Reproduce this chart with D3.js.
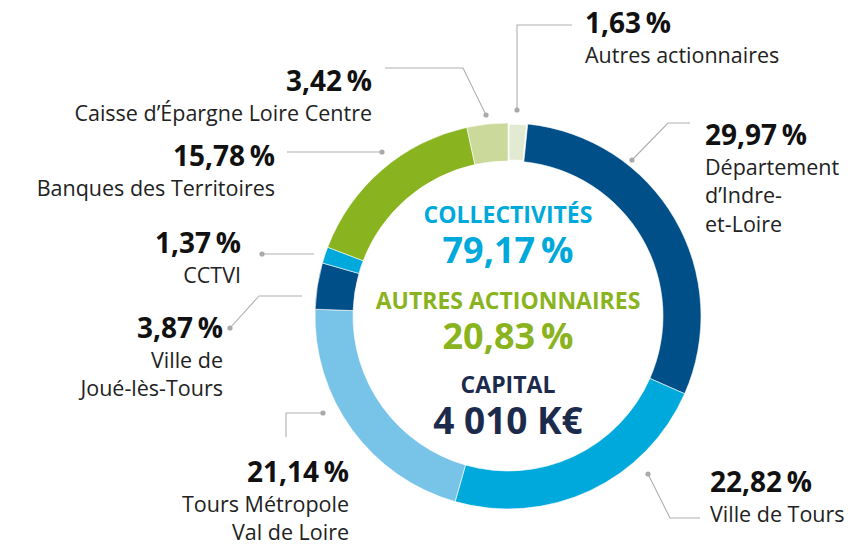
<!DOCTYPE html>
<html>
<head>
<meta charset="utf-8">
<script src="https://cdn.jsdelivr.net/npm/d3@7"></script>
<style>
  body { margin: 0; background: #fff; }
  text { font-family: "Open Sans", Lato, sans-serif; }
</style>
</head>
<body>
<div id="chart"></div>
<script>
// shareholders, clockwise from 12 o'clock
var names = ["Autres actionnaires", "Département d’Indre-et-Loire", "Ville de Tours",
  "Tours Métropole Val de Loire", "Ville de Joué-lès-Tours", "CCTVI",
  "Banques des Territoires", "Caisse d’Épargne Loire Centre"];
var values = [1.63, 29.97, 22.82, 21.14, 3.87, 1.37, 15.78, 3.42];
var groups = ["autres", "coll", "coll", "coll", "coll", "coll", "autres", "autres"];
var labelLines = [["Autres actionnaires"], ["Département", "d’Indre-", "et-Loire"], ["Ville de Tours"],
  ["Tours Métropole", "Val de Loire"], ["Ville de", "Joué-lès-Tours"], ["CCTVI"],
  ["Banques des Territoires"], ["Caisse d’Épargne Loire Centre"]];
var colors = ["#e3ead2", "#004f88", "#00a9db", "#78c3e8", "#004f88", "#00a9db", "#8ab320", "#cbd99a"];
var capital = 4010;

var width = 858, height = 547;
var cx = 508, cy = 316, rOuter = 193, rInner = 155;

var fr = d3.formatLocale({decimal: ",", thousands: "\u00a0", grouping: [3], currency: ["", "€"]});
var pct = function(v) { return fr.format(".2f")(v) + "\u2009%"; };

var svg = d3.select("#chart").append("svg")
    .attr("width", width)
    .attr("height", height);

var data = names.map(function(n, i) { return {name: n, value: values[i], group: groups[i], lines: labelLines[i], color: colors[i]}; });

var pie = d3.pie().sort(null).value(function(d) { return d.value; });
var arc = d3.arc().innerRadius(rInner).outerRadius(rOuter);

var g = svg.append("g").attr("transform", "translate(" + cx + "," + cy + ")");

g.selectAll("path")
    .data(pie(data))
    .enter().append("path")
    .attr("d", arc)
    .attr("fill", function(d) { return d.data.color; })
    .attr("stroke", "#fff")
    .attr("stroke-width", function(d) { return d.data.name == "Autres actionnaires" ? 3 : 0.6; });

// label layout: text anchor point + leader polyline (dot on first point)
var layout = [
  {x: 585, y: 33, anchor: "start", line: [[517, 110], [517, 25], [572, 25]]},
  {x: 705, y: 145, anchor: "start", line: [[632, 160], [668, 123], [690, 123]]},
  {x: 710, y: 492, anchor: "start", line: [[648, 474], [670, 518], [700, 518]]},
  {x: 349, y: 482, anchor: "end", line: [[323, 413], [286, 413], [286, 437]]},
  {x: 223, y: 338, anchor: "end", line: [[230, 328], [259, 296], [302, 296]]},
  {x: 241, y: 253, anchor: "end", line: [[262, 254], [314, 254]]},
  {x: 275, y: 166, anchor: "end", line: [[382, 152], [287, 152]]},
  {x: 372, y: 91, anchor: "end", line: [[486, 115], [463, 68], [385, 68]]}
];

var labels = svg.append("g");
data.forEach(function(d, i) {
  var L = layout[i];
  labels.append("path")
      .attr("d", d3.line()(L.line))
      .attr("fill", "none")
      .attr("stroke", "#b0b0b0")
      .attr("stroke-width", 1.1);
  labels.append("circle")
      .attr("cx", L.line[0][0])
      .attr("cy", L.line[0][1])
      .attr("r", 2.6)
      .attr("fill", "#aaaaaa");
  var t = labels.append("text")
      .attr("x", L.x)
      .attr("y", L.y)
      .attr("text-anchor", L.anchor);
  t.append("tspan")
      .attr("x", L.x)
      .attr("font-size", "28px")
      .attr("font-weight", "bold")
      .attr("fill", "#111")
      .text(pct(d.value));
  d.lines.forEach(function(line, j) {
    t.append("tspan")
        .attr("x", L.x)
        .attr("dy", j == 0 ? 29.5 : 28.5)
        .attr("font-size", "21.5px")
        .attr("fill", "#222")
        .text(line);
  });
});

// centre block
var coll = d3.sum(data.filter(function(d) { return d.group == "coll"; }), function(d) { return d.value; });
var autres = d3.sum(data.filter(function(d) { return d.group == "autres"; }), function(d) { return d.value; });

var centre = [
  {text: "COLLECTIVITÉS", y: 223, size: 23, color: "#00a9db"},
  {text: pct(coll), y: 263, size: 36, color: "#00a9db"},
  {text: "AUTRES ACTIONNAIRES", y: 309, size: 23, color: "#8ab320"},
  {text: pct(autres), y: 349, size: 36, color: "#8ab320"},
  {text: "CAPITAL", y: 393, size: 23, color: "#1c2b4c"},
  {text: fr.format(",")(capital) + " K€", y: 434, size: 37, color: "#1c2b4c"}
];

svg.append("g").selectAll("text")
    .data(centre)
    .enter().append("text")
    .attr("x", cx)
    .attr("y", function(d) { return d.y; })
    .attr("text-anchor", "middle")
    .attr("font-size", function(d) { return d.size + "px"; })
    .attr("font-weight", "bold")
    .attr("fill", function(d) { return d.color; })
    .text(function(d) { return d.text; });
</script>
</body>
</html>
